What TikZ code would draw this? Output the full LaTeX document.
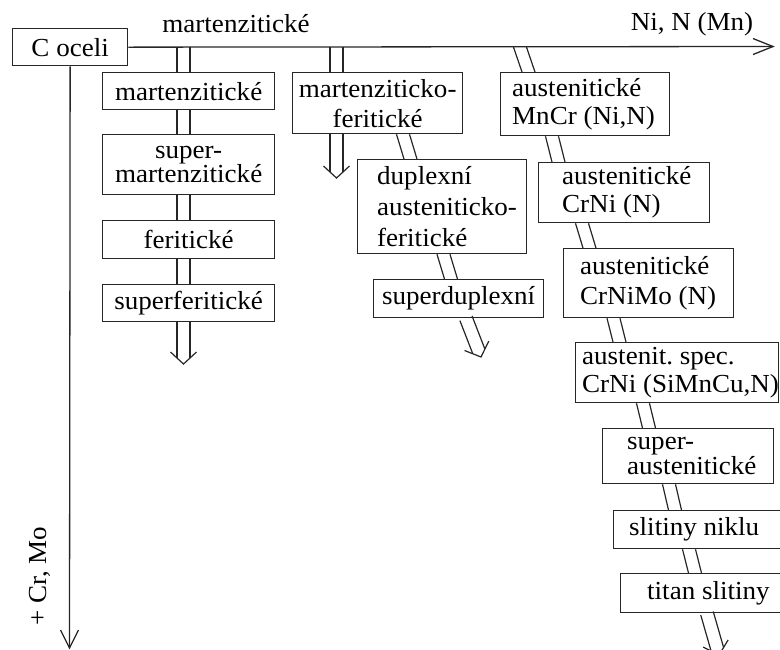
\documentclass[tikz,border=0pt]{standalone}
\usepackage{fontspec}
\setmainfont[FakeStretch=1.04]{Liberation Serif}
\usetikzlibrary{calc}
\newcommand\fsz[1]{\fontsize{26}{#1}\selectfont\frenchspacing}
\tikzset{
  ink/.style={draw=black!85, line width=1.3pt},
  conn/.style={draw=black!85, line width=1.2pt},
  bx/.style={ink, anchor=north west, inner sep=0pt, align=center, font=\fsz{28}},
  txt/.style={anchor=west, inner sep=0pt, align=left, font=\fsz{28}},
  lbl/.style={font=\fsz{28}, inner sep=0pt},
}
% two parallel lines between two points
\newcommand\twin[2]{%
  \draw[conn] ($(#1)+(-6.5,0)$) -- ($(#2)+(-6.5,0)$);
  \draw[conn] ($(#1)+(6.5,0)$) -- ($(#2)+(6.5,0)$);}
% hollow double arrow from #1 to tip #2
\newcommand\dblarrow[2]{%
  \coordinate (dq) at ($(#2)!6pt!(#1)$);
  \coordinate (dv) at ($(#2)!12pt!(#1)$);
  \draw[conn] ($(#1)!6.5pt!90:(#2)$) -- ($(dq)!6.5pt!90:(#2)$);
  \draw[conn] ($(#1)!6.5pt!-90:(#2)$) -- ($(dq)!6.5pt!-90:(#2)$);
  \draw[conn] ($(dv)!13pt!90:(#2)$) -- (#2) -- ($(dv)!13pt!-90:(#2)$);}
\begin{document}
\begin{tikzpicture}[x=1pt,y=-1pt]
\clip (0,0) rectangle (780,649);
% centred boxes
\node[bx, minimum width=115pt, minimum height=37pt] (coceli) at (12,28) {C oceli};
\node[bx, minimum width=172pt, minimum height=37pt] (mart1) at (102,72) {martenzitické};
\node[bx, minimum width=172pt, minimum height=60pt, font=\fsz{23}] (supermart) at (102,134) {super-\\martenzitické};
\node[bx, minimum width=172pt, minimum height=38pt] (ferit) at (102,220) {feritické};
\node[bx, minimum width=172pt, minimum height=37pt] (superferit) at (102,284) {superferitické};
\node[bx, minimum width=170pt, minimum height=61pt, font=\fsz{30}] (martferit) at (292,72) {martenziticko-\\feritické};
\node[bx, minimum width=170pt, minimum height=38pt] (superduplex) at (373,279) {superduplexní};
% boxes with left-set text
\node[bx, minimum width=169pt, minimum height=94pt] (duplex) at (357,159) {};
\node[txt, font=\fsz{31}] (duplex-t) at ($(duplex.west)+(20,0)$) {duplexní\\austeniticko-\\feritické};
\node[bx, minimum width=169pt, minimum height=63pt] (MnCr) at (500,72) {};
\node[txt] (MnCr-t) at ($(MnCr.west)+(12,0)$) {austenitické\\MnCr (Ni,N)};
\node[bx, minimum width=171pt, minimum height=60pt] (CrNi) at (538,162) {};
\node[txt] (CrNi-t) at ($(CrNi.west)+(24,0)$) {austenitické\\CrNi (N)};
\node[bx, minimum width=170pt, minimum height=69pt] (CrNiMo) at (563,248) {};
\node[txt, font=\fsz{30}] (CrNiMo-t) at ($(CrNiMo.west)+(17,0)$) {austenitické\\CrNiMo (N)};
\node[bx, minimum width=203pt, minimum height=60pt] (spec) at (575,342) {};
\node[txt] (spec-t) at ($(spec.west)+(7,0)$) {austenit. spec.\\CrNi (SiMnCu,N)};
\node[bx, minimum width=171pt, minimum height=55pt] (superaust) at (602,428) {};
\node[txt, font=\fsz{23}] (superaust-t) at ($(superaust.west)+(25,0)$) {super-\\austenitické};
\node[bx, minimum width=180pt, minimum height=38pt] (slitiny) at (613,510) {};
\node[txt] (slitiny-t) at ($(slitiny.west)+(16,0)$) {slitiny niklu};
\node[bx, minimum width=180pt, minimum height=39pt] (titan) at (620,573) {};
\node[txt] (titan-t) at ($(titan.west)+(27,0)$) {titan slitiny};
% axis labels
\node[lbl] (lmart) at (236,24) {martenzitické};
\node[lbl] (lni) at (692,24) {Ni, N (Mn)};
\node[lbl, rotate=90] (lcr) at (40,576) {+ Cr, Mo};
% axes
\coordinate (hend) at (773,46.5);
\coordinate (vend) at (69.5,648);
\draw[ink] (coceli.east) -- (hend);
\draw[ink] ($(hend)+(-20,-8)$) -- (hend) -- ($(hend)+(-20,8)$);
\draw[ink] (coceli.south) -- (vend);
\draw[ink] ($(vend)+(-9,-18)$) -- (vend) -- ($(vend)+(9,-18)$);
% tips
\coordinate (tip1) at (183.5,364);
\coordinate (tip2) at (336.5,178);
\coordinate (tip3) at (481,357);
\coordinate (tip4) at (719,655);
% column 1
\twin{183.5,0 |- coceli.east}{183.5,0 |- mart1.north}
\twin{183.5,0 |- mart1.south}{183.5,0 |- supermart.north}
\twin{183.5,0 |- supermart.south}{183.5,0 |- ferit.north}
\twin{183.5,0 |- ferit.south}{183.5,0 |- superferit.north}
\dblarrow{183.5,0 |- superferit.south}{tip1}
% column 2
\twin{336.5,0 |- coceli.east}{336.5,0 |- martferit.north}
\dblarrow{336.5,0 |- martferit.south}{tip2}
\twin{403,0 |- martferit.south}{410.5,0 |- duplex.north}
\twin{443.5,0 |- duplex.south}{451,0 |- superduplex.north}
\dblarrow{466,0 |- superduplex.south}{tip3}
% column 3
\twin{520,0 |- coceli.east}{528.5,0 |- MnCr.north}
\twin{552,0 |- MnCr.south}{558.5,0 |- CrNi.north}
\twin{582,0 |- CrNi.south}{589.5,0 |- CrNiMo.north}
\twin{613.5,0 |- CrNiMo.south}{619.5,0 |- spec.north}
\twin{643,0 |- spec.south}{649,0 |- superaust.north}
\twin{669,0 |- superaust.south}{675,0 |- slitiny.north}
\twin{689,0 |- slitiny.south}{695,0 |- titan.north}
\dblarrow{707,0 |- titan.south}{tip4}
\end{tikzpicture}
\end{document}
